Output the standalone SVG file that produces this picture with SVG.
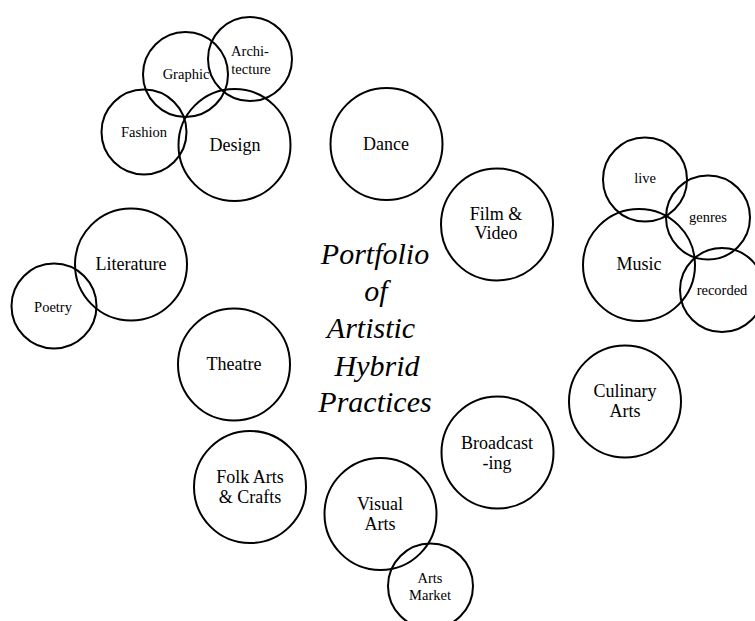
<svg xmlns="http://www.w3.org/2000/svg" width="755" height="621" viewBox="0 0 755 621">
<style>
.c{fill:none;stroke:#000;stroke-width:2}
text{font-family:'Liberation Serif','DejaVu Serif',serif;fill:#000;text-anchor:middle}
.b{font-size:18px}
.s{font-size:14.5px}
.title{font-style:italic;font-size:30px}
</style>
<rect width="755" height="621" fill="#fff"/>
<g id="connectors"></g>
<g id="design"><circle class="c" cx="234.5" cy="145" r="56"/><text class="b" x="235" y="151">Design</text></g>
<g id="fashion"><circle class="c" cx="144" cy="132" r="42.5"/><text class="s" x="144" y="137">Fashion</text></g>
<g id="graphic"><circle class="c" cx="185.5" cy="74.5" r="42.5"/><text class="s" x="186" y="79">Graphic</text></g>
<g id="architecture"><circle class="c" cx="250" cy="59" r="42"/><text class="s"><tspan x="250" y="56">Archi-</tspan><tspan x="251" y="74">tecture</tspan></text></g>
<g id="dance"><circle class="c" cx="386.5" cy="144" r="56"/><text class="b" x="386" y="150">Dance</text></g>
<g id="film"><circle class="c" cx="497" cy="224.5" r="56"/><text class="b"><tspan x="496" y="220">Film &amp;</tspan><tspan x="496" y="239">Video</tspan></text></g>
<g id="music"><circle class="c" cx="639" cy="265" r="56"/><text class="b" x="639" y="270">Music</text></g>
<g id="live"><circle class="c" cx="645" cy="179.5" r="42"/><text class="s" x="645" y="183">live</text></g>
<g id="genres"><circle class="c" cx="708" cy="217.5" r="42"/><text class="s" x="708" y="222">genres</text></g>
<g id="recorded"><circle class="c" cx="722" cy="290" r="42"/><text class="s" x="722" y="295">recorded</text></g>
<g id="literature"><circle class="c" cx="131" cy="264.5" r="56"/><text class="b" x="131" y="270">Literature</text></g>
<g id="poetry"><circle class="c" cx="54" cy="306" r="42.5"/><text class="s" x="53" y="312">Poetry</text></g>
<g id="theatre"><circle class="c" cx="234" cy="364.5" r="56"/><text class="b" x="234" y="370">Theatre</text></g>
<g id="culinary"><circle class="c" cx="625" cy="401.5" r="56"/><text class="b"><tspan x="625" y="397">Culinary</tspan><tspan x="625" y="417">Arts</tspan></text></g>
<g id="broadcasting"><circle class="c" cx="497.5" cy="452.5" r="56"/><text class="b"><tspan x="497" y="449">Broadcast</tspan><tspan x="497" y="469">-ing</tspan></text></g>
<g id="folk"><circle class="c" cx="250" cy="487" r="56"/><text class="b"><tspan x="250" y="483">Folk Arts</tspan><tspan x="250" y="503">&amp; Crafts</tspan></text></g>
<g id="visual"><circle class="c" cx="380.5" cy="514" r="56"/><text class="b"><tspan x="380" y="510">Visual</tspan><tspan x="380" y="530">Arts</tspan></text></g>
<g id="market"><circle class="c" cx="430.5" cy="586" r="42.5"/><text class="s"><tspan x="430" y="583">Arts</tspan><tspan x="430" y="600">Market</tspan></text></g>
<g id="title"><text class="title"><tspan x="375" y="264">Portfolio</tspan><tspan x="376" y="301">of</tspan><tspan x="371" y="338">Artistic</tspan><tspan x="377" y="376">Hybrid</tspan><tspan x="375" y="412">Practices</tspan></text></g>
</svg>
